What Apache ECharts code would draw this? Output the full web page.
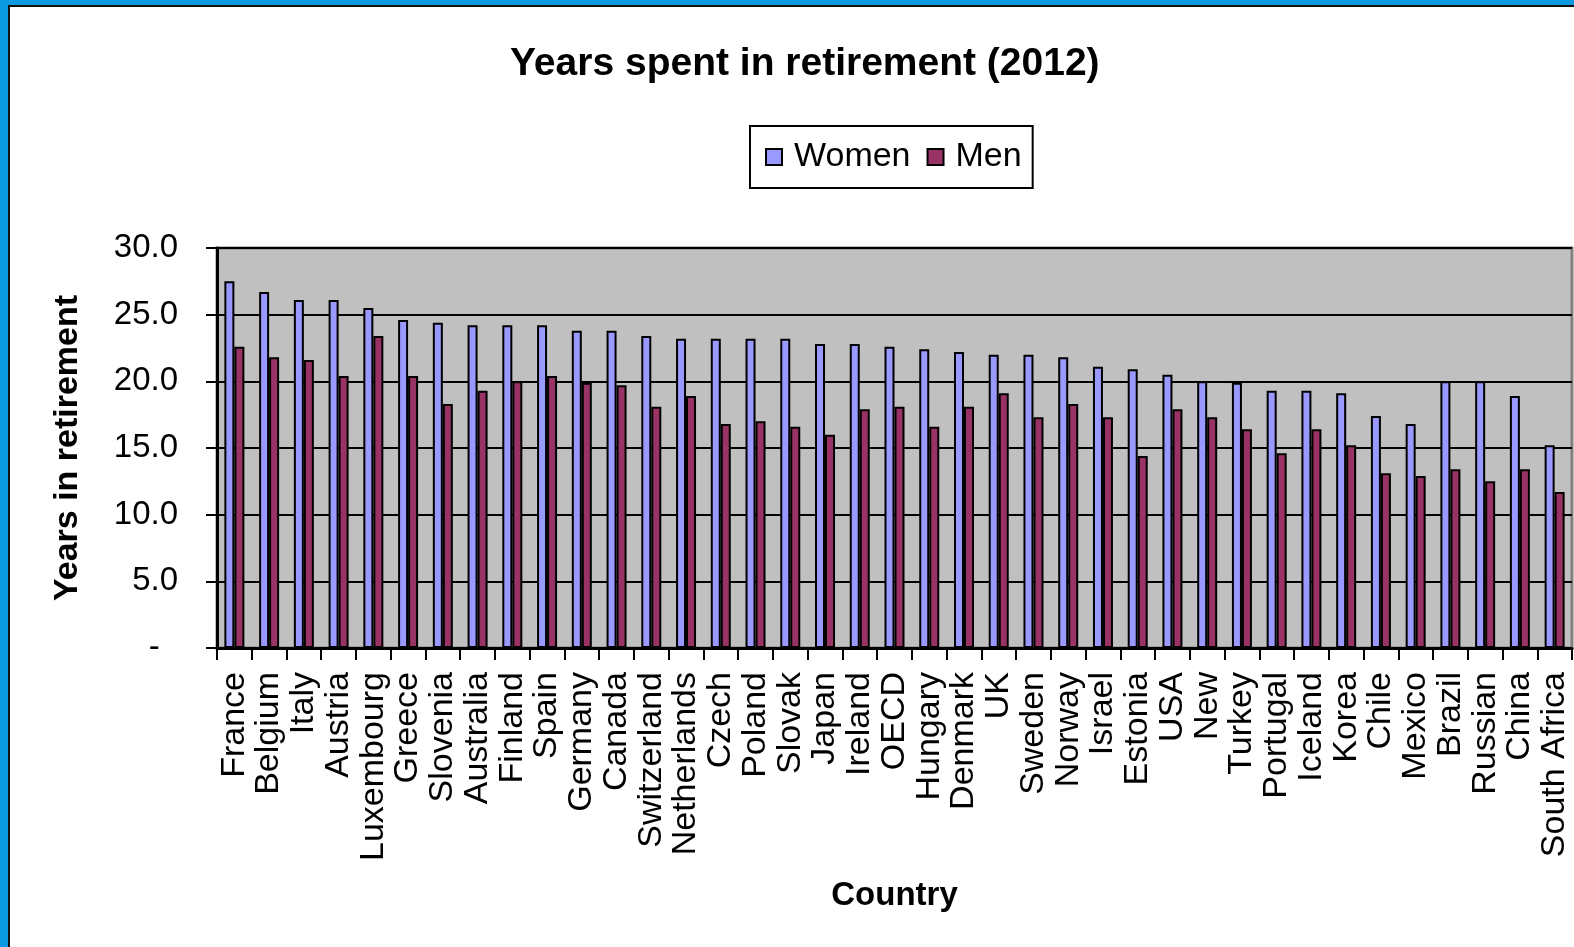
<!DOCTYPE html>
<html>
<head>
<meta charset="utf-8">
<style>
  html, body { margin: 0; padding: 0; background: #ffffff; }
  #chart { width: 1574px; height: 947px; }
</style>
<script src="https://cdn.jsdelivr.net/npm/echarts@6/dist/echarts.min.js"></script>
</head>
<body>
<div id="chart"></div>
<script>
// Years spent in retirement by country, 2012
const countries = [
  'France', 'Belgium', 'Italy', 'Austria', 'Luxembourg', 'Greece', 'Slovenia', 'Australia',
  'Finland', 'Spain', 'Germany', 'Canada', 'Switzerland', 'Netherlands', 'Czech', 'Poland',
  'Slovak', 'Japan', 'Ireland', 'OECD', 'Hungary', 'Denmark', 'UK', 'Sweden',
  'Norway', 'Israel', 'Estonia', 'USA', 'New', 'Turkey', 'Portugal', 'Iceland',
  'Korea', 'Chile', 'Mexico', 'Brazil', 'Russian', 'China', 'South Africa'
];
const womenYears = [
  27.5, 26.7, 26.1, 26.1, 25.5, 24.6, 24.4, 24.2,
  24.2, 24.2, 23.8, 23.8, 23.4, 23.2, 23.2, 23.2,
  23.2, 22.8, 22.8, 22.6, 22.4, 22.2, 22.0, 22.0,
  21.8, 21.1, 20.9, 20.5, 20.0, 19.9, 19.3, 19.3,
  19.1, 17.4, 16.8, 20.0, 20.0, 18.9, 15.2
];
const menYears = [
  22.6, 21.8, 21.6, 20.4, 23.4, 20.4, 18.3, 19.3,
  20.0, 20.4, 19.9, 19.7, 18.1, 18.9, 16.8, 17.0,
  16.6, 16.0, 17.9, 18.1, 16.6, 18.1, 19.1, 17.3,
  18.3, 17.3, 14.4, 17.9, 17.3, 16.4, 14.6, 16.4,
  15.2, 13.1, 12.9, 13.4, 12.5, 13.4, 11.7
];
const seriesNames = ['Women', 'Men'];
const seriesColors = ['#9999ff', '#993366'];

const FONT = '"Liberation Sans", Arial, Helvetica, sans-serif';

const chart = echarts.init(document.getElementById('chart'), null, { renderer: 'canvas' });

chart.setOption({
  animation: false,
  backgroundColor: '#ffffff',
  textStyle: { fontFamily: FONT, color: '#000' },
  title: {
    text: 'Years spent in retirement (2012)',
    left: 510,
    top: 45,
    padding: 0,
    textStyle: { fontFamily: FONT, fontSize: 39, fontWeight: 'bold', color: '#000' }
  },
  legend: {
    data: seriesNames,
    left: 750,
    top: 126,
    orient: 'horizontal',
    padding: [14, 11, 14, 15],
    borderColor: '#000',
    borderWidth: 2,
    backgroundColor: '#ffffff',
    icon: 'rect',
    itemWidth: 16,
    itemHeight: 16,
    itemGap: 16,
    itemStyle: { borderColor: '#000', borderWidth: 2 },
    textStyle: { fontFamily: FONT, fontSize: 34, color: '#000', padding: [0, 0, 0, 7] }
  },
  grid: {
    left: 217,
    top: 248,
    right: 2,
    bottom: 299,
    containLabel: false,
    show: true,
    backgroundColor: '#c0c0c0',
    borderColor: '#808080',
    borderWidth: 3
  },
  xAxis: {
    type: 'category',
    data: countries,
    name: 'Country',
    nameLocation: 'middle',
    nameGap: 231,
    nameTextStyle: { fontFamily: FONT, fontSize: 33, fontWeight: 'bold', color: '#000' },
    axisLine: { show: true, lineStyle: { color: '#000', width: 3 } },
    axisTick: { show: true, length: 12, lineStyle: { color: '#000', width: 2 } },
    axisLabel: {
      interval: 0,
      rotate: 90,
      margin: 24,
      fontFamily: FONT,
      fontSize: 34,
      color: '#000'
    },
    splitLine: { show: false }
  },
  yAxis: {
    type: 'value',
    min: 0,
    max: 30,
    interval: 5,
    name: 'Years in retirement',
    nameLocation: 'middle',
    nameGap: 132,
    nameTextStyle: { fontFamily: FONT, fontSize: 34, fontWeight: 'bold', color: '#000' },
    axisLine: { show: true, lineStyle: { color: '#000', width: 3 } },
    axisTick: { show: true, length: 11, lineStyle: { color: '#000', width: 2 } },
    axisLabel: {
      margin: 39,
      fontFamily: FONT,
      fontSize: 33,
      color: '#000',
      formatter: function (v) { return v === 0 ? '-  ' : v.toFixed(1); }
    },
    splitLine: { show: true, lineStyle: { color: '#000', width: 2 } }
  },
  series: [
    {
      name: seriesNames[0],
      type: 'bar',
      data: womenYears,
      barWidth: 10,
      barGap: '0%',
      itemStyle: { color: seriesColors[0], borderColor: '#000', borderWidth: 2 }
    },
    {
      name: seriesNames[1],
      type: 'bar',
      data: menYears,
      barWidth: 10,
      barGap: '0%',
      itemStyle: { color: seriesColors[1], borderColor: '#000', borderWidth: 2 }
    }
  ],
  graphic: [
    // blue frame with inner dark line along the top and left edges
    { type: 'rect', shape: { x: 0, y: 0, width: 1574, height: 5 }, style: { fill: '#0b99df' }, z: 100 },
    { type: 'rect', shape: { x: 0, y: 0, width: 8, height: 947 }, style: { fill: '#0b99df' }, z: 100 },
    { type: 'rect', shape: { x: 8, y: 5, width: 1566, height: 2 }, style: { fill: '#111' }, z: 100 },
    { type: 'rect', shape: { x: 8, y: 5, width: 2, height: 942 }, style: { fill: '#111' }, z: 100 }
  ]
});
</script>
</body>
</html>
